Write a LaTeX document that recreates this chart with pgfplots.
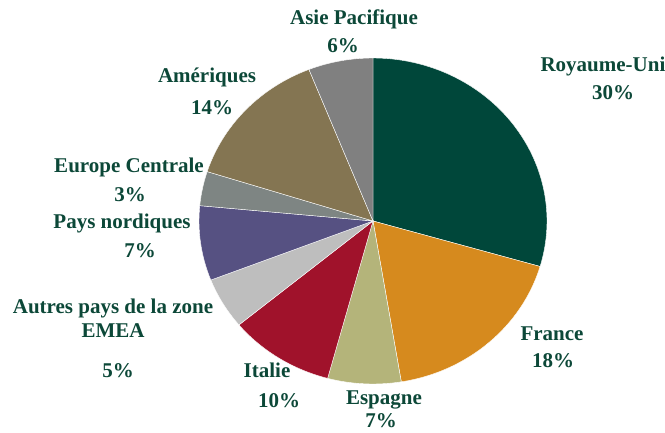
\documentclass[border=0pt]{standalone}
\usepackage{fontspec}
\setmainfont{Liberation Serif}
\usepackage{pgfplots}
\usepackage{pgfplotstable}
\pgfplotsset{compat=1.18}

\definecolor{cUK}{RGB}{0,71,58}
\definecolor{cFR}{RGB}{214,138,30}
\definecolor{cES}{RGB}{180,180,122}
\definecolor{cIT}{RGB}{160,18,43}
\definecolor{cEMEA}{RGB}{190,190,190}
\definecolor{cNO}{RGB}{86,81,130}
\definecolor{cEC}{RGB}{126,133,131}
\definecolor{cAM}{RGB}{132,117,82}
\definecolor{cAP}{RGB}{128,128,128}
\definecolor{txt}{RGB}{12,72,56}

\tikzset{lbl/.style={anchor=base, text=txt, font=\fontsize{21}{25}\selectfont\bfseries, inner sep=0pt}}

% shares in percent, clockwise from 12 o'clock
\pgfplotstableread{
share colour
29.5 cUK
17.9 cFR
6.8  cES
9.8  cIT
5.1  cEMEA
7.4  cNO
3.4  cEC
14.1 cAM
6.0  cAP
}\piedata

\begin{document}
\begin{tikzpicture}
\begin{axis}[
  hide axis, scale only axis,
  x=1pt, y=1pt,
  xmin=0, xmax=665, ymin=0, ymax=432,
  clip=false,
]
\pgfplotsextra{
  \def\startangle{90}
  \pgfplotsforeachungrouped \i in {0,...,8}{
    \pgfplotstablegetelem{\i}{share}\of\piedata \let\share\pgfplotsretval
    \pgfplotstablegetelem{\i}{colour}\of\piedata \let\col\pgfplotsretval
    \pgfmathsetmacro\sweep{3.6*\share}
    \pgfmathsetmacro\endangle{\startangle-\sweep}
    \fill[fill=\col, draw=white, line width=0.4pt] (axis cs:373,211)
      -- ++(\startangle:174pt and 163pt)
      arc[start angle=\startangle, end angle=\endangle, x radius=174pt, y radius=163pt]
      -- cycle;
    \let\startangle\endangle
  }
}
% labels (baselines)
\node[lbl] at (axis cs:354,407) {Asie Pacifique};
\node[lbl] at (axis cs:343,379) {6\%};
\node[lbl] at (axis cs:603,360) {Royaume-Uni};
\node[lbl] at (axis cs:613,332) {30\%};
\node[lbl] at (axis cs:207,349) {Amériques};
\node[lbl] at (axis cs:212,317) {14\%};
\node[lbl] at (axis cs:129,259) {Europe Centrale};
\node[lbl] at (axis cs:130,230) {3\%};
\node[lbl] at (axis cs:122,204) {Pays nordiques};
\node[lbl] at (axis cs:140,175) {7\%};
\node[lbl] at (axis cs:113,119) {Autres pays de la zone};
\node[lbl] at (axis cs:113,95) {EMEA};
\node[lbl] at (axis cs:118,55) {5\%};
\node[lbl] at (axis cs:267,55) {Italie};
\node[lbl] at (axis cs:279,25) {10\%};
\node[lbl] at (axis cs:384,28) {Espagne};
\node[lbl] at (axis cs:381,5) {7\%};
\node[lbl] at (axis cs:552,92) {France};
\node[lbl] at (axis cs:553,65) {18\%};
\end{axis}
\pgfresetboundingbox
\useasboundingbox (current axis.south west) rectangle (current axis.north east);
\end{tikzpicture}
\end{document}
